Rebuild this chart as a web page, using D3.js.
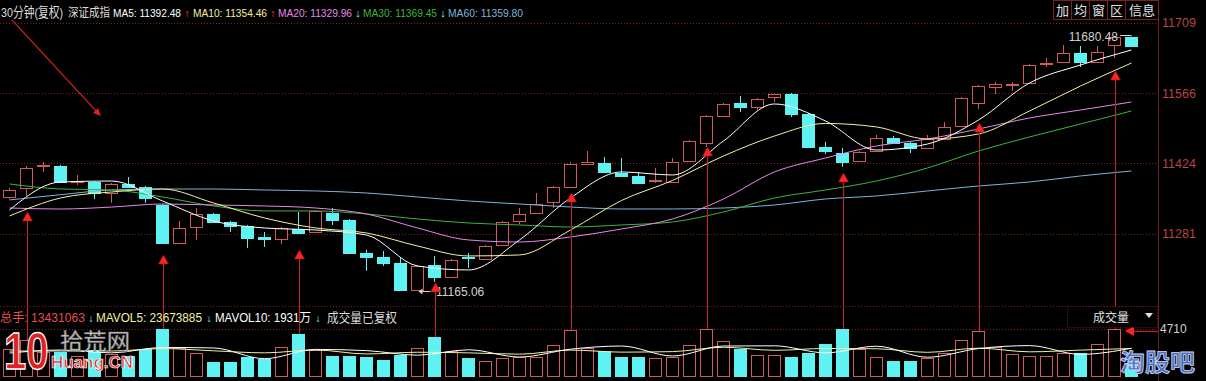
<!DOCTYPE html>
<html><head><meta charset="utf-8">
<script src="https://cdn.jsdelivr.net/npm/d3@7"></script>
<style>html,body{margin:0;padding:0;background:#000;overflow:hidden}svg{display:block}</style>
</head><body><svg id="c" width="1206" height="381"></svg>
<script>
// ---- data (30-minute bars, 深证成指) ----
const opens = [11355.4,11373.7,11417.2,11418.2,11385.8,11385.8,11363.5,11381.8,11375.7,11339.2,
 11262.2,11294.6,11321.0,11304.8,11296.7,11273.4,11270.3,11290.6,11284.5,11323.0,
 11308.8,11242.0,11233.8,11221.7,11167.0,11217.6,11193.3,11232.8,11229.8,11258.2,
 11306.8,11323.0,11345.3,11375.7,11422.3,11424.3,11404.1,11398.0,11386.8,11385.8,
 11428.4,11464.8,11519.6,11545.9,11537.8,11558.0,11564.1,11523.6,11456.7,11444.6,
 11428.4,11448.6,11475.0,11464.8,11454.7,11472.9,11499.3,11545.9,11578.3,11583.4,
 11586.4,11624.9,11629.0,11647.2,11629.0,11663.4,11680.48];
const highs = [11373.7,11418.2,11426.3,11420.3,11400.0,11387.8,11383.8,11395.9,11377.7,11341.2,
 11306.8,11333.1,11323.0,11306.8,11298.7,11284.5,11294.6,11325.0,11329.1,11333.1,
 11310.8,11248.0,11246.0,11231.8,11217.6,11235.9,11229.8,11242.0,11258.2,11306.8,
 11333.1,11363.5,11377.7,11426.3,11448.6,11436.5,11434.4,11406.1,11414.2,11434.4,
 11470.9,11521.6,11545.9,11560.1,11556.0,11566.2,11566.2,11525.6,11466.9,11454.7,
 11448.6,11481.1,11479.0,11466.9,11481.1,11507.4,11558.0,11582.4,11588.4,11588.4,
 11624.9,11637.1,11663.4,11661.4,11661.4,11679.6,11680.48];
const lows = [11351.4,11357.5,11406.1,11383.8,11379.7,11351.4,11343.3,11373.7,11343.3,11260.2,
 11260.2,11268.3,11302.7,11284.5,11252.1,11254.1,11260.2,11280.4,11282.5,11298.7,
 11239.9,11205.5,11215.6,11166.0,11165.06,11183.2,11191.3,11211.5,11227.8,11256.1,
 11300.7,11321.0,11333.1,11373.7,11420.3,11404.1,11395.9,11381.8,11383.8,11383.8,
 11426.3,11456.7,11517.5,11527.7,11531.7,11547.9,11517.5,11454.7,11442.6,11416.2,
 11426.3,11446.6,11462.8,11444.6,11452.7,11470.9,11497.3,11533.7,11564.1,11570.2,
 11584.4,11618.8,11626.9,11618.8,11626.9,11637.1,11661.4];
const closes = [11369.6,11414.2,11419.3,11385.8,11387.8,11363.5,11381.8,11375.7,11353.4,11262.2,
 11292.6,11321.0,11304.8,11296.7,11272.3,11270.3,11292.6,11282.5,11327.1,11308.8,
 11242.0,11233.8,11221.7,11166.0,11215.6,11193.3,11227.8,11230.8,11256.1,11304.8,
 11321.0,11341.2,11375.7,11422.3,11426.3,11406.1,11398.0,11383.8,11388.9,11426.3,
 11468.9,11519.6,11543.9,11537.8,11554.0,11564.1,11523.6,11456.7,11448.6,11426.3,
 11446.6,11475.0,11464.8,11454.7,11472.9,11497.3,11556.0,11580.3,11584.4,11584.4,
 11622.9,11626.9,11647.2,11629.0,11649.2,11679.6,11661.4];
// volume in 万 (10k shares)
const volumes = [2750,3630,2450,2450,2060,2650,2260,2060,2750,4700,
 2850,2350,1470,1470,1960,1770,2940,4220,2650,2060,
 2060,1960,1670,2160,2850,3920,2550,1860,1570,1860,
 1960,1960,3140,4650,2850,2550,1960,1960,1860,1960,
 3140,4680,3530,2750,2160,2160,1960,2350,3240,4710,
 2750,1960,1570,1570,1860,2350,3630,4510,2940,2260,
 2060,2060,2350,2350,3240,4710,1343];
// moving averages read at every third bar
const maIndex = [0,3,6,9,12,15,18,21,24,27,30,33,36,39,42,45,48,51,54,57,60,63,66];
const ma5  = [11329.1,11385.8,11387.8,11347.3,11306.8,11292.6,11288.5,11278.4,11215.6,11207.5,11268.3,11353.4,11406.1,11400.0,11468.9,11543.9,11509.4,11450.6,11462.8,11511.4,11586.4,11622.9,11653.3];
const ma10 = [11316.9,11353.4,11365.5,11371.6,11343.3,11312.9,11292.6,11282.5,11256.1,11235.9,11237.9,11288.5,11348.3,11388.9,11438.5,11479.0,11504.4,11497.3,11472.9,11483.1,11529.7,11580.3,11626.9];
const ma20 = [11333.1,11331.0,11335.0,11341.2,11339.2,11337.2,11333.1,11321.0,11292.6,11268.3,11264.2,11274.4,11290.6,11310.8,11351.4,11406.1,11434.4,11458.8,11472.9,11493.2,11515.5,11531.7,11547.9];
const ma30 = [11381.8,11371.6,11369.6,11355.4,11337.2,11327.1,11327.1,11321.0,11310.8,11302.7,11298.7,11294.6,11298.7,11304.8,11325.0,11353.4,11369.6,11387.8,11414.2,11448.6,11477.0,11503.3,11529.7];
const ma60 = [11349.4,11360.0,11369.6,11371.6,11371.6,11369.6,11367.6,11363.5,11355.4,11347.3,11341.2,11335.1,11331.1,11331.1,11333.1,11339.2,11351.4,11357.5,11367.6,11377.7,11385.8,11398.0,11408.1];
const mavol5  = [2350,2650,2370,2900,2850,1800,2710,2590,2140,2670,1960,2730,3040,2060,3040,3060,2370,3020,1940,2790,3080,2220,2820];
const mavol10 = [2550,2550,2550,2790,2570,2370,2650,2260,2430,2370,2240,2640,2440,2490,2920,2620,2800,2770,2420,2830,2470,2640,2800];
const priceTicks = [11709, 11566, 11424, 11281];
const volTicks = [4710];
// annotation arrows: first bar of each day, tip price
const arrowBars = [1,9,17,25,33,41,49,57,65];
const arrowTips = [11325.0,11237.9,11248.0,11181.2,11363.5,11456.7,11404.1,11505.4,11610.7];
const highLabel = "11680.48", lowLabel = "11165.06";

// ---- drawing ----
const svg = d3.select('#c');
const W = 1206, H = 381, plotR = 1158;
const FONT = '"Liberation Sans", Arial, "Noto Sans CJK SC", sans-serif';
const UP = '#d05a5a', DOWN = '#5ff2f2', GRID = '#7a2222';
svg.append('rect').attr('width', W).attr('height', H).attr('fill', '#000');

const n = closes.length;
const x = d3.scaleBand().domain(d3.range(n)).range([1, 1140]).paddingInner(0.235).paddingOuter(0.1175);
const bw = x.bandwidth();
const xc = i => x(i) + bw / 2;
const y = d3.scaleLinear().domain([11281, 11709]).range([233.7, 22.5]);
const yv = d3.scaleLinear().domain([0, 4710]).range([377, 329]);

// gridlines
const g = svg.append('g');
priceTicks.forEach(t => g.append('line').attr('x1', 0).attr('x2', plotR)
  .attr('y1', Math.round(y(t)) + 0.5).attr('y2', Math.round(y(t)) + 0.5)
  .attr('stroke', GRID).attr('stroke-dasharray', '1,2'));
[306.5].forEach(v => g.append('line').attr('x1', 0).attr('x2', plotR).attr('y1', v).attr('y2', v)
  .attr('stroke', GRID).attr('stroke-dasharray', '1,2'));
volTicks.forEach(t => g.append('line').attr('x1', 0).attr('x2', plotR)
  .attr('y1', Math.round(yv(t)) + 0.5).attr('y2', Math.round(yv(t)) + 0.5)
  .attr('stroke', GRID).attr('stroke-dasharray', '1,2'));
g.append('line').attr('x1', plotR + 0.5).attr('x2', plotR + 0.5).attr('y1', 0).attr('y2', H)
  .attr('stroke', '#6b1c1c');

// axes
const ax = svg.append('g').attr('transform', `translate(${plotR},0)`)
  .call(d3.axisRight(y).tickValues(priceTicks).tickSize(0).tickPadding(4).tickFormat(d3.format('d')));
ax.select('.domain').remove();
ax.selectAll('text').attr('fill', '#b84444').style('font', `12.5px ${FONT}`);
const axv = svg.append('g').attr('transform', `translate(${plotR},0)`)
  .call(d3.axisRight(yv).tickValues(volTicks).tickSize(0).tickPadding(2).tickFormat(d3.format('d')));
axv.select('.domain').remove();
axv.selectAll('text').attr('fill', '#d0d0d0').style('font', `12px ${FONT}`);

// candles
const cg = svg.append('g');
d3.range(n).forEach(i => {
  const o = opens[i], c = closes[i], up = c >= o;
  const col = up ? UP : DOWN;
  const cx = Math.floor(xc(i)) + 0.5;
  cg.append('line').attr('x1', cx).attr('x2', cx).attr('y1', y(highs[i])).attr('y2', y(lows[i]))
    .attr('stroke', col).attr('stroke-width', 1);
  const top = Math.round(y(Math.max(o, c)));
  const h = Math.max(1, Math.round(Math.abs(y(o) - y(c))));
  if (up) {
    cg.append('rect').attr('x', x(i) + 0.5).attr('y', top + 0.5).attr('width', bw - 1).attr('height', h)
      .attr('fill', '#000').attr('stroke', col);
  } else {
    cg.append('rect').attr('x', x(i)).attr('y', top).attr('width', bw).attr('height', h + 1).attr('fill', col);
  }
  // volume bar
  const vt = Math.round(yv(volumes[i]));
  if (up) {
    cg.append('rect').attr('x', x(i) + 0.5).attr('y', vt + 0.5).attr('width', bw - 1).attr('height', 377 - vt - 1)
      .attr('fill', '#000').attr('stroke', col);
  } else {
    cg.append('rect').attr('x', x(i)).attr('y', vt).attr('width', bw).attr('height', 377 - vt).attr('fill', col);
  }
});

// MA lines
const line = (scale) => d3.line().x((d, k) => xc(maIndex[k])).y(d => scale(d)).curve(d3.curveMonotoneX);
[[ma60, '#7fb4d8'], [ma30, '#3cb43c'], [ma20, '#e888e8'], [ma10, '#f2f2a0'], [ma5, '#ffffff']].forEach(([arr, col]) =>
  svg.append('path').attr('d', line(y)(arr)).attr('fill', 'none').attr('stroke', col).attr('stroke-width', 1));
[[mavol10, '#f2f2a0'], [mavol5, '#ffffff']].forEach(([arr, col]) =>
  svg.append('path').attr('d', line(yv)(arr)).attr('fill', 'none').attr('stroke', col).attr('stroke-width', 1));

// high / low labels
const hiIdx = highs.indexOf(d3.max(highs)), loIdx = lows.indexOf(d3.min(lows));
svg.append('text').attr('x', 1118).attr('y', y(d3.max(highs)) + 4).attr('text-anchor', 'end')
  .attr('fill', '#d0d0d0').style('font', `12px ${FONT}`).text(highLabel);
svg.append('line').attr('x1', 1120).attr('x2', xc(hiIdx)).attr('y1', Math.round(y(d3.max(highs))) - 1.5).attr('y2', Math.round(y(d3.max(highs))) - 1.5)
  .attr('stroke', '#d0d0d0');
const ly = Math.round(y(d3.min(lows))) + 0.5;
svg.append('line').attr('x1', 431).attr('x2', xc(loIdx) + 2).attr('y1', ly).attr('y2', ly).attr('stroke', '#d0d0d0');
svg.append('path').attr('d', `M${xc(loIdx) + 1},${ly} l4,-3 l0,6 z`).attr('fill', '#d0d0d0');
svg.append('text').attr('x', 436).attr('y', ly + 4.5).attr('fill', '#d0d0d0').style('font', `12px ${FONT}`).text(lowLabel);

// annotation arrows (red)
arrowBars.forEach((b, k) => {
  const ax0 = Math.floor(xc(b)) + 1.5;
  const ty = y(arrowTips[k]);
  svg.append('line').attr('x1', ax0).attr('x2', ax0).attr('y1', ty + 8).attr('y2', yv(volumes[b]))
    .attr('stroke', '#b02a2a').attr('stroke-width', 1.2);
  svg.append('path').attr('d', `M${ax0},${ty} l-5,9 l10,0 z`).attr('fill', '#ff2424').attr('stroke', '#a01010').attr('stroke-width', 0.6);
});
// top-left diagonal arrow
svg.append('line').attr('x1', 12).attr('y1', 20).attr('x2', 97).attr('y2', 112).attr('stroke', '#c02020').attr('stroke-width', 1.2);
svg.append('path').attr('d', 'M101,116 l-3,-8 l-5,5 z').attr('fill', '#e02020');
// volume arrow to 4710
svg.append('line').attr('x1', 1133).attr('x2', 1158).attr('y1', 331.5).attr('y2', 331.5).attr('stroke', '#c02020').attr('stroke-width', 1.2);
svg.append('path').attr('d', 'M1125,331 l9,-5 l0,10 z').attr('fill', '#ff2424');

// header lines (font sized so natural widths fit; slight vertical stretch like the original)
function headerLine(items, yy, sy) {
  const grp = svg.append('g').attr('transform', `translate(0,${yy}) scale(1,${sy})`);
  items.forEach(([s, xx, len, col, fs]) => {
    grp.append('text').attr('x', xx).attr('y', 0).attr('fill', col)
      .style('font', `${fs}px ${FONT}`)
      .attr('textLength', len).attr('lengthAdjust', 'spacingAndGlyphs').text(s);
  });
}
headerLine([
  ['30分钟(复权)', 1, 62, '#dcdcdc', 11.5], ['深证成指', 68, 42, '#dcdcdc', 10.5],
  ['MA5: 11392.48', 113, 68, '#ffffff', 10], ['↑', 184, 6, '#ff3030', 9],
  ['MA10: 11354.46', 193, 74, '#f2f2a0', 10], ['↑', 270, 6, '#ff3030', 9],
  ['MA20: 11329.96', 278, 74, '#e888e8', 10], ['↓', 355, 6, '#5ff2f2', 9],
  ['MA30: 11369.45', 363, 74, '#3cb43c', 10], ['↓', 440, 6, '#5ff2f2', 9],
  ['MA60: 11359.80', 448, 75, '#7fb4d8', 10]
], 17, 1.18);
headerLine([
  ['总手: 13431063', 0, 85, '#e05050', 11], ['↓', 88, 6, '#5ff2f2', 9],
  ['MAVOL5: 23673885', 96, 106, '#f2f2a0', 11], ['↓', 206, 6, '#5ff2f2', 9],
  ['MAVOL10: 1931万', 215, 96, '#ffffff', 11], ['↓', 315, 6, '#5ff2f2', 9],
  ['成交量已复权', 327, 70, '#dcdcdc', 11.5]
], 322, 1.1);

// buttons top right
const btns = [['加', 1053, 1071], ['均', 1071, 1089], ['窗', 1089, 1107], ['区', 1107, 1125], ['信息', 1125, 1158]];
btns.forEach(([t, a, b]) => {
  svg.append('rect').attr('x', a + 0.5).attr('y', 0.5).attr('width', b - a).attr('height', 19).attr('fill', '#000').attr('stroke', '#7a2222');
  svg.append('text').attr('x', (a + b) / 2 + 0.5).attr('y', 15).attr('text-anchor', 'middle')
    .attr('fill', '#e0e0e0').style('font', `13px ${FONT}`).text(t);
});
// 成交量 box
svg.append('rect').attr('x', 1067.5).attr('y', 306.5).attr('width', 90).attr('height', 21).attr('fill', '#000')
  .attr('stroke', GRID).attr('stroke-dasharray', '1,2');
svg.append('text').attr('x', 1093).attr('y', 322).attr('fill', '#e0e0e0').style('font', `12px ${FONT}`).text('成交量');
svg.append('path').attr('d', 'M1145,313 l8,0 l-4,5 z').attr('fill', '#e0e0e0');

// watermarks
svg.append('g').attr('transform', 'translate(4,369) scale(1,1.3)')
  .append('text').attr('x', 0).attr('y', 0)
  .attr('fill', '#e02020').attr('stroke', '#ffffff').attr('stroke-width', 1)
  .style('font', `bold 40px ${FONT}`).text('10');
svg.append('text').attr('x', 60).attr('y', 349).attr('textLength', 70).attr('lengthAdjust', 'spacingAndGlyphs')
  .attr('fill', '#cfcfcf').attr('stroke', '#707070').attr('stroke-width', 0.6)
  .style('font', `22px ${FONT}`).text('拾荒网');
svg.append('text').attr('x', 51).attr('y', 368).attr('textLength', 82).attr('lengthAdjust', 'spacingAndGlyphs')
  .attr('fill', '#e02828').attr('stroke', '#ffffff').attr('stroke-width', 0.7)
  .style('font', `bold 17px ${FONT}`).text('Huang.CN');
svg.append('text').attr('x', 1120).attr('y', 371).attr('textLength', 75).attr('lengthAdjust', 'spacingAndGlyphs')
  .attr('fill', '#4a6fc0').attr('stroke', '#c8d4f0').attr('stroke-width', 0.8)
  .style('font', `bold 24px ${FONT}`).text('淘股吧');
</script></body></html>
